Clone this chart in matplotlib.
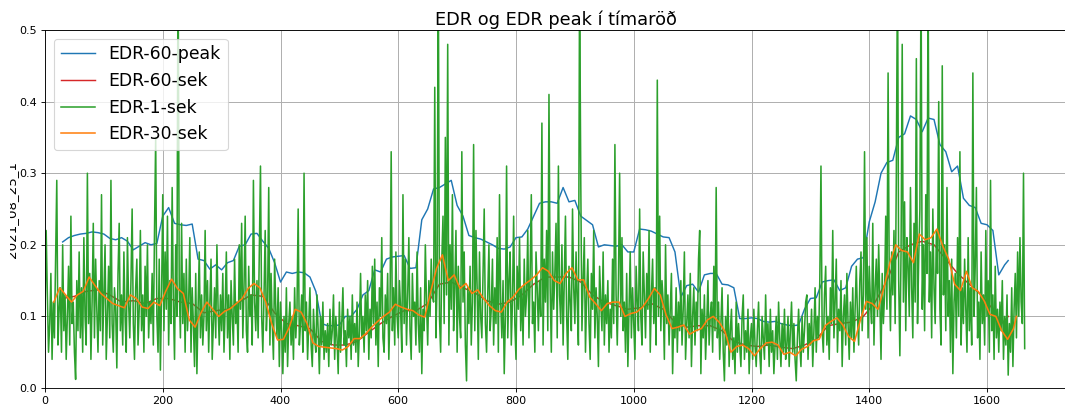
import numpy as np
import matplotlib
matplotlib.use("Agg")
import matplotlib.pyplot as plt
from matplotlib.transforms import Bbox, TransformedBbox, IdentityTransform

title = "EDR og EDR peak í tímaröð"
ylabel = "2021_08_25_1"
labels = ["EDR-60-peak", "EDR-60-sek", "EDR-1-sek", "EDR-30-sek"]
colors = ["#1f77b4", "#d62728", "#2ca02c", "#ff7f0e"]

# EDR-60-peak
peak_x = [30, 40, 50, 60, 70, 80, 90, 100, 110, 120, 130, 140, 150, 160, 170, 180, 190, 200, 210, 220,
          230, 240, 250, 260, 270, 280, 290, 300, 310, 320, 330, 340, 350, 360, 370, 380, 390, 400, 410, 420,
          430, 440, 450, 460, 470, 480, 490, 500, 510, 520, 530, 540, 550, 560, 570, 580, 590, 600, 610, 620,
          630, 640, 650, 660, 670, 680, 690, 700, 710, 720, 730, 740, 750, 760, 770, 780, 790, 800, 810, 820,
          830, 840, 850, 860, 870, 880, 890, 900, 910, 920, 930, 940, 950, 960, 970, 980, 990, 1000, 1010, 1020,
          1030, 1040, 1050, 1060, 1070, 1080, 1090, 1100, 1110, 1120, 1130, 1140, 1150, 1160, 1170, 1180, 1190, 1200, 1210, 1220,
          1230, 1240, 1250, 1260, 1270, 1280, 1290, 1300, 1310, 1320, 1330, 1340, 1350, 1360, 1370, 1380, 1390, 1400, 1410, 1420,
          1430, 1440, 1450, 1460, 1470, 1480, 1490, 1500, 1510, 1520, 1530, 1540, 1550, 1560, 1570, 1580, 1590, 1600, 1610, 1620,
          1630, 1636]
peak_y = [0.204, 0.21, 0.213, 0.215, 0.216, 0.218, 0.217, 0.215, 0.209, 0.207, 0.21, 0.205, 0.193, 0.198, 0.203, 0.2, 0.202, 0.24, 0.252, 0.23,
          0.228, 0.227, 0.229, 0.18, 0.178, 0.166, 0.172, 0.165, 0.175, 0.178, 0.198, 0.2, 0.215, 0.216, 0.205, 0.195, 0.175, 0.148, 0.162, 0.16,
          0.162, 0.161, 0.155, 0.135, 0.09, 0.087, 0.087, 0.088, 0.1, 0.1, 0.11, 0.13, 0.136, 0.165, 0.162, 0.18, 0.183, 0.184, 0.185, 0.167,
          0.168, 0.235, 0.25, 0.278, 0.28, 0.285, 0.29, 0.255, 0.24, 0.213, 0.21, 0.208, 0.204, 0.2, 0.195, 0.194, 0.197, 0.21, 0.211, 0.222,
          0.24, 0.258, 0.26, 0.26, 0.258, 0.28, 0.26, 0.262, 0.24, 0.234, 0.228, 0.197, 0.2, 0.199, 0.198, 0.2, 0.19, 0.19, 0.222, 0.221,
          0.219, 0.215, 0.211, 0.21, 0.19, 0.127, 0.143, 0.145, 0.134, 0.158, 0.16, 0.16, 0.145, 0.144, 0.14, 0.097, 0.097, 0.098, 0.097, 0.093,
          0.092, 0.093, 0.09, 0.088, 0.087, 0.088, 0.11, 0.125, 0.126, 0.148, 0.15, 0.151, 0.136, 0.14, 0.17, 0.18, 0.182, 0.232, 0.26, 0.3,
          0.315, 0.318, 0.35, 0.355, 0.38, 0.375, 0.358, 0.377, 0.375, 0.34, 0.33, 0.302, 0.31, 0.265, 0.255, 0.252, 0.23, 0.228, 0.22, 0.158,
          0.172, 0.178]

# EDR-60-sek
sek60_x = [30, 50, 70, 90, 110, 130, 150, 170, 190, 210, 230, 250, 270, 290, 310, 330, 350, 370, 390, 410,
           430, 450, 470, 490, 510, 530, 550, 570, 590, 610, 630, 650, 670, 690, 710, 730, 750, 770, 790, 810,
           830, 850, 870, 890, 910, 930, 950, 970, 990, 1010, 1030, 1050, 1070, 1090, 1110, 1130, 1150, 1170, 1190, 1210,
           1230, 1250, 1270, 1290, 1310, 1330, 1350, 1370, 1390, 1410, 1430, 1450, 1470, 1490, 1510, 1530, 1550, 1570, 1590, 1610,
           1625, 1636]
sek60_y = [0.125, 0.128, 0.135, 0.137, 0.13, 0.12, 0.122, 0.118, 0.125, 0.125, 0.12, 0.118, 0.105, 0.108, 0.11, 0.12, 0.13, 0.128, 0.105, 0.09,
           0.087, 0.083, 0.065, 0.06, 0.06, 0.065, 0.078, 0.09, 0.1, 0.108, 0.108, 0.118, 0.145, 0.148, 0.14, 0.133, 0.122, 0.117, 0.12, 0.13,
           0.145, 0.155, 0.155, 0.155, 0.148, 0.13, 0.12, 0.115, 0.11, 0.112, 0.118, 0.11, 0.092, 0.085, 0.087, 0.087, 0.08, 0.065, 0.06, 0.058,
           0.06, 0.057, 0.055, 0.06, 0.068, 0.087, 0.09, 0.092, 0.1, 0.12, 0.15, 0.19, 0.2, 0.205, 0.2, 0.18, 0.16, 0.145, 0.13, 0.11,
           0.09, 0.1]

# EDR-1-sek (one value every 2 time steps, from 0 to 1664)
sek1_step = 2
sek1_y = [
    0.10, 0.22, 0.13, 0.05, 0.09, 0.16, 0.04, 0.12, 0.07, 0.18, 0.29, 0.06, 0.11, 0.14, 0.05, 0.20, 0.08, 0.13, 0.04, 0.10, 0.17, 0.06, 0.24, 0.09, 0.12, 0.05, 0.012, 0.15, 0.08, 0.19,
    0.07, 0.14, 0.05, 0.21, 0.10, 0.06, 0.30, 0.09, 0.16, 0.04, 0.12, 0.23, 0.07, 0.18, 0.11, 0.05, 0.15, 0.08, 0.27, 0.06, 0.13, 0.20, 0.04, 0.10, 0.17, 0.07, 0.29, 0.09, 0.05, 0.14,
    0.11, 0.028, 0.16, 0.23, 0.08, 0.13, 0.06, 0.19, 0.10, 0.05, 0.21, 0.12, 0.07, 0.15, 0.25, 0.09, 0.04, 0.14, 0.18, 0.06, 0.11, 0.22, 0.08, 0.13, 0.05, 0.17, 0.10, 0.20, 0.07, 0.12,
    0.09, 0.16, 0.06, 0.22, 0.35, 0.10, 0.05, 0.18, 0.025, 0.13, 0.27, 0.08, 0.19, 0.11, 0.24, 0.06, 0.15, 0.09, 0.28, 0.12, 0.04, 0.20, 0.10, 0.62, 0.14, 0.07, 0.23, 0.09, 0.16, 0.05,
    0.18, 0.08, 0.12, 0.21, 0.05, 0.14, 0.09, 0.03, 0.16, 0.02, 0.11, 0.19, 0.07, 0.13, 0.06, 0.10, 0.22, 0.08, 0.15, 0.05, 0.12, 0.18, 0.04, 0.09, 0.14, 0.07, 0.20, 0.11, 0.06, 0.13,
    0.08, 0.16, 0.05, 0.11, 0.19, 0.07, 0.13, 0.04, 0.15, 0.10, 0.06, 0.18, 0.09, 0.12, 0.05, 0.20, 0.11, 0.23, 0.07, 0.14, 0.24, 0.08, 0.05, 0.17, 0.10, 0.13, 0.06, 0.29, 0.12, 0.08,
    0.15, 0.07, 0.19, 0.31, 0.10, 0.05, 0.13, 0.22, 0.08, 0.12, 0.28, 0.06, 0.16, 0.09, 0.04, 0.18, 0.11, 0.07, 0.14, 0.03, 0.12, 0.08, 0.02, 0.10, 0.05, 0.14, 0.03, 0.09, 0.12, 0.06,
    0.10, 0.04, 0.14, 0.07, 0.11, 0.25, 0.06, 0.09, 0.13, 0.05, 0.30, 0.08, 0.12, 0.04, 0.09, 0.14, 0.06, 0.03, 0.11, 0.07, 0.05, 0.13, 0.08, 0.02, 0.10, 0.06, 0.12, 0.04, 0.08, 0.05,
    0.09, 0.03, 0.11, 0.06, 0.08, 0.13, 0.04, 0.10, 0.07, 0.02, 0.12, 0.05, 0.09, 0.14, 0.06, 0.08, 0.03, 0.11, 0.07, 0.10, 0.04, 0.13, 0.06, 0.09, 0.05, 0.12, 0.03, 0.08, 0.16, 0.07,
    0.10, 0.05, 0.13, 0.08, 0.15, 0.04, 0.11, 0.07, 0.17, 0.09, 0.18, 0.06, 0.12, 0.03, 0.14, 0.10, 0.21, 0.07, 0.05, 0.13, 0.09, 0.16, 0.04, 0.11, 0.33, 0.08, 0.14, 0.06, 0.19, 0.10,
    0.07, 0.15, 0.11, 0.05, 0.27, 0.09, 0.18, 0.06, 0.13, 0.21, 0.08, 0.04, 0.16, 0.10, 0.12, 0.06, 0.19, 0.09, 0.05, 0.14, 0.02, 0.11, 0.08, 0.20, 0.12, 0.06, 0.15, 0.10, 0.18, 0.13,
    0.12, 0.42, 0.07, 0.15, 0.60, 0.10, 0.05, 0.18, 0.24, 0.09, 0.35, 0.13, 0.48, 0.06, 0.20, 0.11, 0.27, 0.08, 0.14, 0.22, 0.05, 0.17, 0.10, 0.07, 0.33, 0.12, 0.19, 0.06, 0.01, 0.14,
    0.09, 0.17, 0.06, 0.12, 0.34, 0.08, 0.22, 0.14, 0.04, 0.19, 0.10, 0.07, 0.16, 0.25, 0.09, 0.05, 0.13, 0.20, 0.08, 0.11, 0.18, 0.06, 0.14, 0.09, 0.21, 0.05, 0.27, 0.12, 0.07, 0.15,
    0.02, 0.10, 0.31, 0.07, 0.15, 0.19, 0.06, 0.12, 0.24, 0.09, 0.04, 0.17, 0.11, 0.21, 0.08, 0.14, 0.06, 0.18, 0.10, 0.13, 0.22, 0.07, 0.16, 0.27, 0.09, 0.12, 0.05, 0.19, 0.14, 0.08,
    0.15, 0.10, 0.37, 0.06, 0.18, 0.12, 0.22, 0.08, 0.41, 0.14, 0.05, 0.19, 0.11, 0.16, 0.23, 0.07, 0.31, 0.13, 0.09, 0.20, 0.06, 0.15, 0.24, 0.10, 0.04, 0.17, 0.12, 0.08, 0.25, 0.14,
    0.09, 0.19, 0.12, 0.06, 0.58, 0.29, 0.08, 0.15, 0.21, 0.05, 0.13, 0.18, 0.09, 0.04, 0.16, 0.11, 0.22, 0.07, 0.14, 0.10, 0.03, 0.17, 0.12, 0.08, 0.19, 0.06, 0.13, 0.09, 0.15, 0.05,
    0.11, 0.07, 0.18, 0.09, 0.34, 0.13, 0.06, 0.15, 0.30, 0.10, 0.21, 0.08, 0.12, 0.05, 0.16, 0.03, 0.11, 0.19, 0.07, 0.14, 0.09, 0.04, 0.17, 0.12, 0.08, 0.25, 0.10, 0.06, 0.19, 0.13,
    0.07, 0.16, 0.11, 0.22, 0.05, 0.13, 0.18, 0.09, 0.14, 0.06, 0.43, 0.10, 0.24, 0.08, 0.15, 0.12, 0.04, 0.20, 0.09, 0.13, 0.06, 0.11, 0.16, 0.02, 0.10, 0.07, 0.14, 0.05, 0.12, 0.08,
    0.15, 0.06, 0.11, 0.19, 0.04, 0.09, 0.13, 0.07, 0.16, 0.03, 0.10, 0.14, 0.06, 0.12, 0.08, 0.18, 0.22, 0.02, 0.11, 0.07, 0.13, 0.04, 0.09, 0.15, 0.06, 0.10, 0.12, 0.05, 0.17, 0.08,
    0.28, 0.07, 0.12, 0.04, 0.09, 0.14, 0.05, 0.01, 0.10, 0.06, 0.13, 0.03, 0.08, 0.11, 0.04, 0.07, 0.02, 0.12, 0.05, 0.09, 0.06, 0.03, 0.10, 0.13, 0.04, 0.08, 0.05, 0.11, 0.02, 0.07,
    0.09, 0.04, 0.11, 0.06, 0.03, 0.08, 0.12, 0.05, 0.02, 0.10, 0.07, 0.04, 0.13, 0.06, 0.09, 0.03, 0.11, 0.05, 0.08, 0.02, 0.06, 0.10, 0.04, 0.12, 0.07, 0.03, 0.09, 0.05, 0.11, 0.04,
    0.06, 0.10, 0.03, 0.08, 0.12, 0.05, 0.09, 0.04, 0.01, 0.07, 0.11, 0.06, 0.03, 0.10, 0.05, 0.08, 0.12, 0.13, 0.04, 0.09, 0.06, 0.11, 0.03, 0.08, 0.14, 0.05, 0.10, 0.07, 0.15, 0.31,
    0.08, 0.05, 0.13, 0.17, 0.06, 0.10, 0.04, 0.14, 0.09, 0.22, 0.07, 0.12, 0.18, 0.05, 0.11, 0.08, 0.15, 0.03, 0.10, 0.13, 0.06, 0.16, 0.09, 0.04, 0.12, 0.07, 0.14, 0.05, 0.11, 0.17,
    0.10, 0.06, 0.15, 0.19, 0.08, 0.13, 0.33, 0.11, 0.21, 0.07, 0.17, 0.12, 0.09, 0.23, 0.06, 0.14, 0.18, 0.10, 0.20, 0.12, 0.04, 0.16, 0.09, 0.13, 0.24, 0.11, 0.44, 0.15, 0.08, 0.19,
    0.13, 0.22, 0.09, 0.30, 0.60, 0.15, 0.045, 0.19, 0.48, 0.12, 0.26, 0.08, 0.21, 0.17, 0.10, 0.28, 0.14, 0.07, 0.23, 0.12, 0.46, 0.09, 0.18, 0.25, 0.58, 0.11, 0.20, 0.08, 0.27, 0.16,
    0.58, 0.12, 0.19, 0.07, 0.25, 0.14, 0.09, 0.22, 0.16, 0.40, 0.11, 0.06, 0.45, 0.13, 0.20, 0.08, 0.28, 0.10, 0.15, 0.05, 0.18, 0.02, 0.12, 0.16, 0.07, 0.21, 0.10, 0.33, 0.06, 0.14,
    0.09, 0.18, 0.11, 0.05, 0.21, 0.08, 0.14, 0.06, 0.44, 0.10, 0.17, 0.28, 0.07, 0.12, 0.04, 0.19, 0.09, 0.13, 0.06, 0.22, 0.10, 0.15, 0.05, 0.29, 0.08, 0.13, 0.04, 0.17, 0.07, 0.11,
    0.05, 0.12, 0.08, 0.15, 0.04, 0.10, 0.06, 0.13, 0.018, 0.09, 0.05, 0.14, 0.03, 0.11, 0.16, 0.07, 0.19, 0.10, 0.21, 0.12, 0.09, 0.30, 0.055,
]

# EDR-30-sek
sek30_x = [15, 25, 35, 45, 55, 65, 75, 85, 95, 105, 115, 125, 135, 145, 155, 165, 175, 185, 195, 205,
           215, 225, 235, 245, 255, 265, 275, 285, 295, 305, 315, 325, 335, 345, 355, 365, 375, 385, 395, 405,
           415, 425, 435, 445, 455, 465, 475, 485, 495, 505, 515, 525, 535, 545, 555, 565, 575, 585, 595, 605,
           615, 625, 635, 645, 655, 665, 675, 685, 695, 705, 715, 725, 735, 745, 755, 765, 775, 785, 795, 805,
           815, 825, 835, 845, 855, 865, 875, 885, 895, 905, 915, 925, 935, 945, 955, 965, 975, 985, 995, 1005,
           1015, 1025, 1035, 1045, 1055, 1065, 1075, 1085, 1095, 1105, 1115, 1125, 1135, 1145, 1155, 1165, 1175, 1185, 1195, 1205,
           1215, 1225, 1235, 1245, 1255, 1265, 1275, 1285, 1295, 1305, 1315, 1325, 1335, 1345, 1355, 1365, 1375, 1385, 1395, 1405,
           1415, 1425, 1435, 1445, 1455, 1465, 1475, 1485, 1495, 1505, 1515, 1525, 1535, 1545, 1555, 1565, 1575, 1585, 1595, 1605,
           1615, 1625, 1635, 1645, 1650]
sek30_y = [0.12, 0.14, 0.13, 0.12, 0.13, 0.135, 0.155, 0.143, 0.132, 0.125, 0.118, 0.115, 0.112, 0.13, 0.125, 0.113, 0.111, 0.12, 0.115, 0.135,
           0.152, 0.139, 0.132, 0.095, 0.085, 0.105, 0.12, 0.11, 0.1, 0.107, 0.111, 0.118, 0.125, 0.139, 0.146, 0.14, 0.12, 0.09, 0.067, 0.068,
           0.085, 0.11, 0.106, 0.09, 0.063, 0.058, 0.057, 0.056, 0.055, 0.053, 0.058, 0.069, 0.069, 0.076, 0.085, 0.093, 0.1, 0.106, 0.117, 0.113,
           0.11, 0.108, 0.102, 0.099, 0.134, 0.167, 0.186, 0.15, 0.158, 0.139, 0.146, 0.132, 0.137, 0.125, 0.115, 0.108, 0.106, 0.12, 0.127, 0.138,
           0.145, 0.151, 0.158, 0.168, 0.163, 0.15, 0.146, 0.16, 0.168, 0.151, 0.151, 0.127, 0.118, 0.108, 0.118, 0.12, 0.12, 0.1, 0.104, 0.106,
           0.113, 0.125, 0.139, 0.13, 0.102, 0.083, 0.085, 0.088, 0.075, 0.08, 0.083, 0.095, 0.1, 0.092, 0.079, 0.05, 0.058, 0.06, 0.055, 0.045,
           0.055, 0.063, 0.064, 0.06, 0.047, 0.05, 0.045, 0.054, 0.058, 0.066, 0.068, 0.087, 0.093, 0.098, 0.088, 0.072, 0.065, 0.095, 0.121, 0.118,
           0.11, 0.14, 0.175, 0.2, 0.192, 0.19, 0.175, 0.215, 0.207, 0.21, 0.222, 0.198, 0.18, 0.145, 0.136, 0.163, 0.14, 0.135, 0.122, 0.103,
           0.1, 0.08, 0.068, 0.083, 0.1]

xticks = [0, 200, 400, 600, 800, 1000, 1200, 1400, 1600]
yticks = [0.0, 0.1, 0.2, 0.3, 0.4, 0.5]

W, H, DPI = 1065, 404, 80
fig = plt.figure(figsize=(W / DPI, H / DPI), dpi=DPI)
ax = fig.add_axes([45 / W, 16 / H, (1067 - 45) / W, (388 - 30) / H])

sek1_x = np.arange(len(sek1_y)) * sek1_step
ax.plot(peak_x, peak_y, color=colors[0], lw=1.3, label=labels[0])
ax.plot(sek60_x, sek60_y, color=colors[1], lw=1.3, label=labels[1])
ax.plot(sek1_x, sek1_y, color=colors[2], lw=1.4, label=labels[2])
ax.plot(sek30_x, sek30_y, color=colors[3], lw=1.4, label=labels[3])

ax.set_xlim(0, (1067 - 45) / 0.58875)
ax.set_ylim(0, 0.5)
ax.set_xticks(xticks)
ax.set_yticks(yticks)
ax.set_yticklabels([f"{v:.1f}" for v in yticks])
ax.grid(True, color="#b0b0b0", lw=0.9)
ax.set_title(title, fontsize=16, pad=4.5)
ax.legend(loc="upper left", fontsize=15.5, framealpha=0.8)

t = ax.set_ylabel(ylabel, fontsize=12)
ax.yaxis.set_label_coords((18 - 45) / (1067 - 45), 0.5)
t.set_clip_on(True)
t.set_clip_box(TransformedBbox(Bbox([[10, 0], [45, H]]), IdentityTransform()))

fig.savefig("out.png", dpi=DPI)
